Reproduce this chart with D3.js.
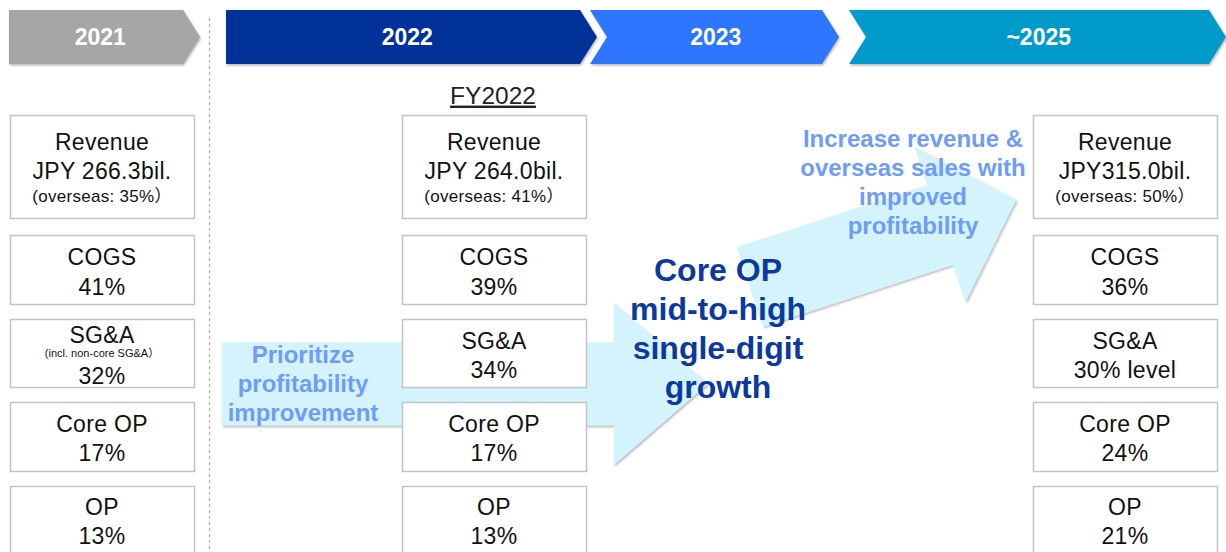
<!DOCTYPE html>
<html>
<head>
<meta charset="utf-8">
<script src="https://cdn.jsdelivr.net/npm/d3@7"></script>
<style>
  body { margin: 0; background: #fff; }
  svg { display: block; font-family: "Liberation Sans", Arial, "Noto Sans CJK JP", sans-serif; }
</style>
</head>
<body>
<div id="chart"></div>
<script>
var width = 1226, height = 552;

// timeline stages
var stages = ["2021", "2022", "2023", "~2025"];
var stageColors = ["#a6a6a6", "#003399", "#2d74ff", "#009acb"];

// KPI columns
var columns = ["2021", "FY2022", "~2025"];
var rowNames = ["Revenue", "COGS", "SG&A", "Core OP", "OP"];
var revenue = ["JPY 266.3bil.", "JPY 264.0bil.", "JPY315.0bil."];
var overseas = ["35%", "41%", "50%"];
var cogs = ["41%", "39%", "36%"];
var sga = ["32%", "34%", "30% level"];
var sgaNote = ["(incl. non-core SG&A）", "", ""];
var coreOp = ["17%", "17%", "24%"];
var op = ["13%", "13%", "21%"];

// arrow captions
var arrow1Text = ["Prioritize", "profitability", "improvement"];
var growthText = ["Core OP", "mid-to-high", "single-digit", "growth"];
var arrow2Text = ["Increase revenue &", "overseas sales with", "improved", "profitability"];

var svg = d3.select("#chart").append("svg")
    .attr("width", width)
    .attr("height", height);

var defs = svg.append("defs");
var sh = defs.append("filter").attr("id", "shadow")
    .attr("x", "-5%").attr("y", "-10%").attr("width", "115%").attr("height", "130%");
sh.append("feDropShadow").attr("dx", 1).attr("dy", 1.5).attr("stdDeviation", 1)
    .attr("flood-color", "#777").attr("flood-opacity", 0.55);

// ---- header chevrons
var stageX = d3.scaleOrdinal().domain(stages).range([9, 226, 590, 849]);
var stageW = d3.scaleOrdinal().domain(stages).range([174, 354, 232, 360]);
var notch = d3.scaleOrdinal().domain(stages).range([0, 0, 17, 17]);
var tip = 17, top0 = 10, hh = 54;

var chev = svg.append("g").selectAll(".stage")
    .data(stages)
    .enter().append("g")
    .attr("class", "stage");

chev.append("path")
    .attr("d", function(d) {
        var x = stageX(d), w = stageW(d), n = notch(d);
        return "M" + x + "," + top0 +
            "L" + (x + w) + "," + top0 +
            "L" + (x + w + tip) + "," + (top0 + hh / 2) +
            "L" + (x + w) + "," + (top0 + hh) +
            "L" + x + "," + (top0 + hh) +
            "L" + (x + n) + "," + (top0 + hh / 2) + "Z";
    })
    .style("fill", function(d, i) { return stageColors[i]; })
    .attr("filter", "url(#shadow)");

chev.append("text")
    .text(function(d) { return d; })
    .attr("x", function(d) { return stageX(d) + (stageW(d) + tip / 2 + notch(d)) / 2 - (notch(d) ? 3 : 0); })
    .attr("y", top0 + hh / 2)
    .attr("dy", "0.36em")
    .style("text-anchor", "middle")
    .style("fill", "#fff")
    .style("font-weight", "bold")
    .style("font-size", "23px");

// dotted separator
svg.append("line")
    .attr("x1", 209.5).attr("x2", 209.5)
    .attr("y1", 18).attr("y2", height)
    .style("stroke", "#b0b0b0")
    .style("stroke-width", 1.2)
    .style("stroke-dasharray", "3,3");

// ---- arrows
function arrowPath(len, sHalf, hHalf, hLen) {
    return "M0," + (-sHalf) + "L" + len + "," + (-sHalf) + "L" + len + "," + (-hHalf) +
        "L" + (len + hLen) + ",0L" + len + "," + hHalf + "L" + len + "," + sHalf +
        "L0," + sHalf + "Z";
}
var arrowFill = "#d4f3fd";

svg.append("path")
    .attr("d", arrowPath(392, 41.5, 81, 94))
    .attr("transform", "translate(222,384)")
    .style("fill", arrowFill)
    .attr("filter", "url(#shadow)");

svg.append("path")
    .attr("d", arrowPath(200, 42, 81.5, 80))
    .attr("transform", "translate(750,287) rotate(-18.07)")
    .style("fill", arrowFill)
    .attr("filter", "url(#shadow)");

// ---- KPI boxes
var colX = d3.scaleOrdinal().domain(columns).range([10, 402, 1033]);
var boxW = 184;
var rowY = d3.scaleOrdinal().domain(rowNames).range([115, 235, 319, 402, 486]);
var rowH = d3.scaleOrdinal().domain(rowNames).range([103, 69, 68, 69, 69]);

var big = 23;
var cells = [];
columns.forEach(function(c, i) {
    cells.push({ col: c, row: "Revenue", lines: [
        { t: "Revenue", dy: 27, s: big },
        { t: revenue[i], dy: 56, s: big },
        { t: "(overseas: " + overseas[i] + "）", dy: 81, s: 17 }] });
    cells.push({ col: c, row: "COGS", lines: [
        { t: "COGS", dy: 22, s: big }, { t: cogs[i], dy: 52, s: big }] });
    if (sgaNote[i]) {
        cells.push({ col: c, row: "SG&A", lines: [
            { t: "SG&A", dy: 16, s: big }, { t: sgaNote[i], dy: 34, s: 11 },
            { t: sga[i], dy: 57, s: big }] });
    } else {
        cells.push({ col: c, row: "SG&A", lines: [
            { t: "SG&A", dy: 22, s: big }, { t: sga[i], dy: 51, s: big }] });
    }
    cells.push({ col: c, row: "Core OP", lines: [
        { t: "Core OP", dy: 22, s: big }, { t: coreOp[i], dy: 51, s: big }] });
    cells.push({ col: c, row: "OP", lines: [
        { t: "OP", dy: 21, s: big }, { t: op[i], dy: 50, s: big }] });
});

var box = svg.append("g").selectAll(".cell")
    .data(cells)
    .enter().append("g")
    .attr("class", "cell")
    .attr("transform", function(d) { return "translate(" + colX(d.col) + "," + rowY(d.row) + ")"; });

box.append("rect")
    .attr("x", 0.5).attr("y", 0.5)
    .attr("width", boxW)
    .attr("height", function(d) { return rowH(d.row); })
    .style("fill", "#fff")
    .style("stroke", "#c4c4c4")
    .style("stroke-width", 1.5);

box.selectAll("text")
    .data(function(d) { return d.lines; })
    .enter().append("text")
    .text(function(d) { return d.t; })
    .attr("x", boxW / 2)
    .attr("y", function(d) { return d.dy; })
    .attr("dy", "0.35em")
    .style("text-anchor", "middle")
    .style("fill", "#111")
    .style("letter-spacing", function(d) { return d.s > 12 ? "0.3px" : "0px"; })
    .style("font-size", function(d) { return d.s + "px"; });

// FY2022 heading
svg.append("text")
    .text("FY2022")
    .attr("x", colX("FY2022") + boxW / 2 - 1)
    .attr("y", 95)
    .attr("dy", "0.35em")
    .style("text-anchor", "middle")
    .style("font-size", "24.5px")
    .style("fill", "#222")
    .style("text-decoration", "underline");

// ---- captions
function caption(lines, cx, cy0, step, size, color) {
    svg.append("g").selectAll("text")
        .data(lines)
        .enter().append("text")
        .text(function(d) { return d; })
        .attr("x", cx)
        .attr("y", function(d, i) { return cy0 + i * step; })
        .attr("dy", "0.35em")
        .style("text-anchor", "middle")
        .style("font-weight", "bold")
        .style("font-size", size + "px")
        .style("fill", color);
}
caption(arrow1Text, 303, 355, 29, 24, "#6e9cf7");
caption(growthText, 718, 270, 39, 32, "#0a3a9e");
caption(arrow2Text, 913, 139, 29, 24, "#6e9cf7");
</script>
</body>
</html>
